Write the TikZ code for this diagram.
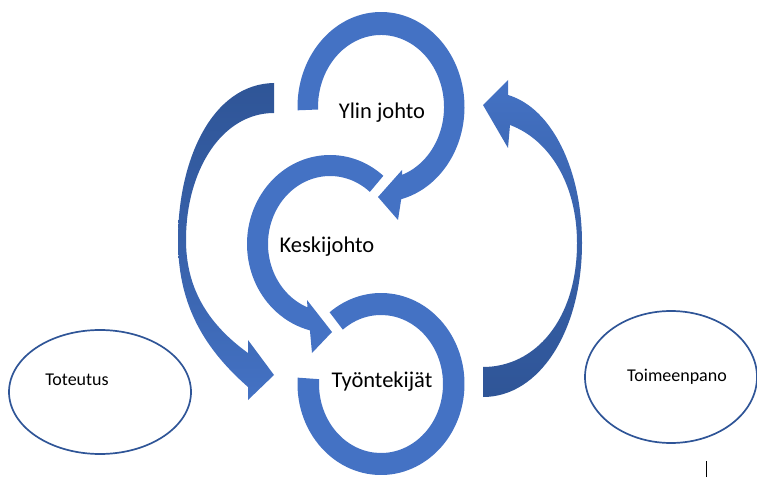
\documentclass[tikz,border=0pt]{standalone}
\usepackage{fontspec}
\setmainfont{Carlito}
\usetikzlibrary{calc,shapes.geometric}
\definecolor{ringblue}{HTML}{4472C4}
\definecolor{darkblue}{HTML}{2F5597}

\begin{document}
\begin{tikzpicture}[
    x=1pt, y=1pt,
    ring/.style={fill=ringblue},
    bigarrow/.style={draw=none},
    title/.style={font=\fontsize{22.5}{26}\selectfont, anchor=base},
    phase/.style={ellipse, draw=darkblue, line width=1.7pt, inner sep=0pt},
    phasetext/.style={font=\fontsize{18}{22}\selectfont, anchor=base}
]
\useasboundingbox (0,0) rectangle (757,477);

\coordinate (ylinc) at (381,370);
\coordinate (keskic) at (330,233);
\coordinate (tyoc) at (381,93);

\fill[ring] ($(tyoc)+(176:83.5 and 91)$) arc[start angle=176, end angle=488, x radius=83.5, y radius=91]
    -- ($(tyoc)+(128:62 and 69)$) arc[start angle=128, end angle=-184, x radius=62, y radius=69] -- cycle;
\fill[ring] ($(keskic)+(50:83 and 89)$) arc[start angle=50, end angle=256, x radius=83, y radius=89]
    -- (312,124) -- (332,145) -- (307,177)
    -- ($(keskic)+(248.7:62 and 68)$) arc[start angle=248.7, end angle=50, x radius=62, y radius=68] -- cycle;
\fill[ring] ($(ylinc)+(182:83.5 and 95)$) arc[start angle=182, end angle=-76, x radius=83.5, y radius=95]
    -- (398,257) -- (378,280) -- (402,307)
    -- ($(ylinc)+(-70.5:63 and 72)$) arc[start angle=-70.5, end angle=182, x radius=63, y radius=72] -- cycle;

\shade[bigarrow, top color=darkblue, bottom color=ringblue, middle color=darkblue!60!ringblue]
    (274,394) .. controls (212,393) and (178,317) .. (178,237)
    .. controls (178,177) and (200,132) .. (248,90)
    -- (248,77) -- (274,102) -- (248,137) -- (248,124)
    .. controls (205,155) and (186,192) .. (186,237)
    .. controls (186,307) and (222,364) .. (274,364) -- cycle;
\shade[bigarrow, top color=ringblue, bottom color=darkblue, middle color=darkblue!60!ringblue]
    (483,110) .. controls (535,110) and (577,157) .. (577,234)
    .. controls (577,292) and (550,337) .. (510,352)
    -- (508,329) -- (483,372) -- (508,397) -- (508,382)
    .. controls (552,369) and (582,307) .. (582,234)
    .. controls (582,147) and (540,80) .. (483,80) -- cycle;

\node[title] (ylin) at (382,358) {Ylin johto};
\node[title] (keski) at (327,224) {Keskijohto};
\node[title] (tyo) at (382,90) {Työntekijät};

\node[phase, minimum width=182pt, minimum height=124pt] (toteutus) at (100,85) {};
\node[phasetext] (toteutusteksti) at (77,92) {Toteutus};
\node[phase, minimum width=172pt, minimum height=132pt] (toimeenpano) at (671,100) {};
\node[phasetext] (toimeenpanoteksti) at (677,96) {Toimeenpano};

\draw[line width=0.8pt] (706,0) -- (706,16);
\end{tikzpicture}
\end{document}
